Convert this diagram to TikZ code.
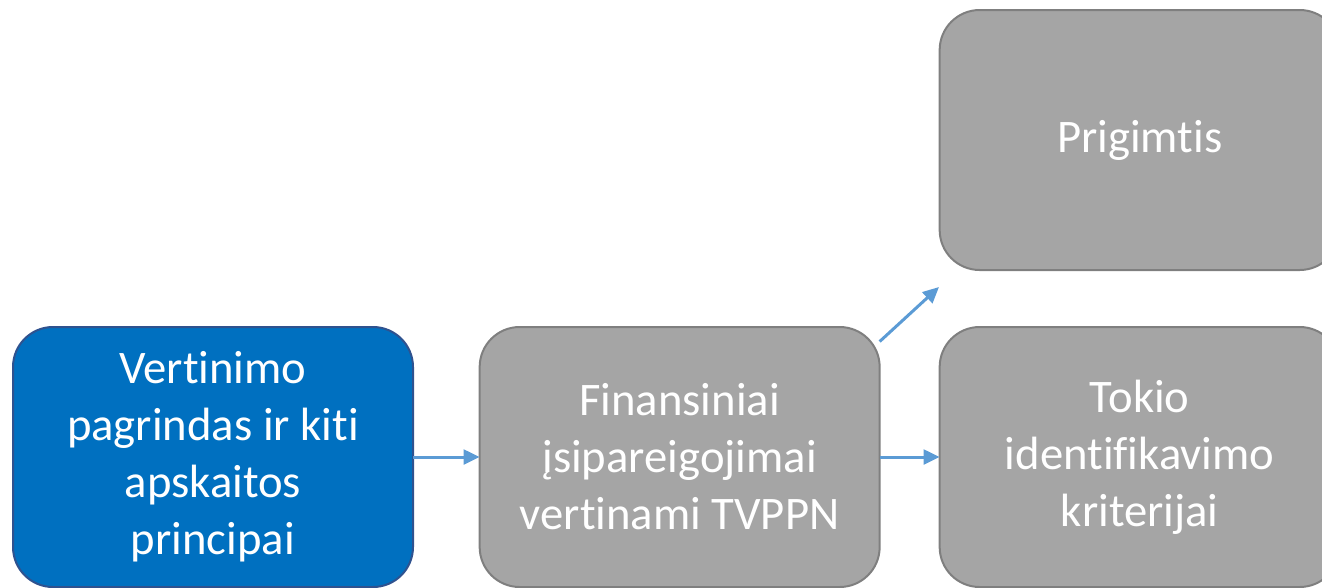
\documentclass[tikz,border=0pt]{standalone}
\usepackage{fontspec}
\setmainfont{Carlito}[Ligatures=NoCommon]
\usetikzlibrary{arrows.meta,positioning}
\definecolor{BoxBlue}{RGB}{0,112,192}
\definecolor{EdgeBlue}{RGB}{47,82,143}
\definecolor{BoxGrey}{RGB}{165,165,165}
\definecolor{EdgeGrey}{RGB}{127,127,127}
\definecolor{ArrowBlue}{RGB}{91,155,213}
\tikzset{
  stage/.style={rectangle,rounded corners=30pt,draw=EdgeGrey,fill=BoxGrey,
    line width=1.5pt,minimum width=300pt,minimum height=195pt,inner sep=0pt,
    outer sep=0pt,align=center,text=white,font=\fontsize{35}{42.75}\selectfont},
  flow/.style={-{Triangle[length=12pt,width=11pt]},ArrowBlue,line width=2.25pt}
}

\begin{document}
\begin{tikzpicture}[x=0.75pt,y=-0.75pt]
  \useasboundingbox (0,0) rectangle (1322,587);
  \node[stage,fill=BoxBlue,draw=EdgeBlue] (vert) at (213,457)
    {Vertinimo\\pagrindas ir kiti\\apskaitos\\principai};
  \node[stage,right=50pt of vert] (fin)
    {Finansiniai\\įsipareigojimai\\vertinami TVPPN};
  \node[stage,right=45pt of fin] (tokio)
    {Tokio\\identifikavimo\\kriterijai};
  \node[stage,above=42.75pt of tokio] (prig) {Prigimtis};
  \coordinate (tip) at (939,287);
  \draw[flow] (vert.east) -- (fin.west);
  \draw[flow] (fin.east) -- (tokio.west);
  \draw[flow] (fin.30) -- (tip);
\end{tikzpicture}
\end{document}
